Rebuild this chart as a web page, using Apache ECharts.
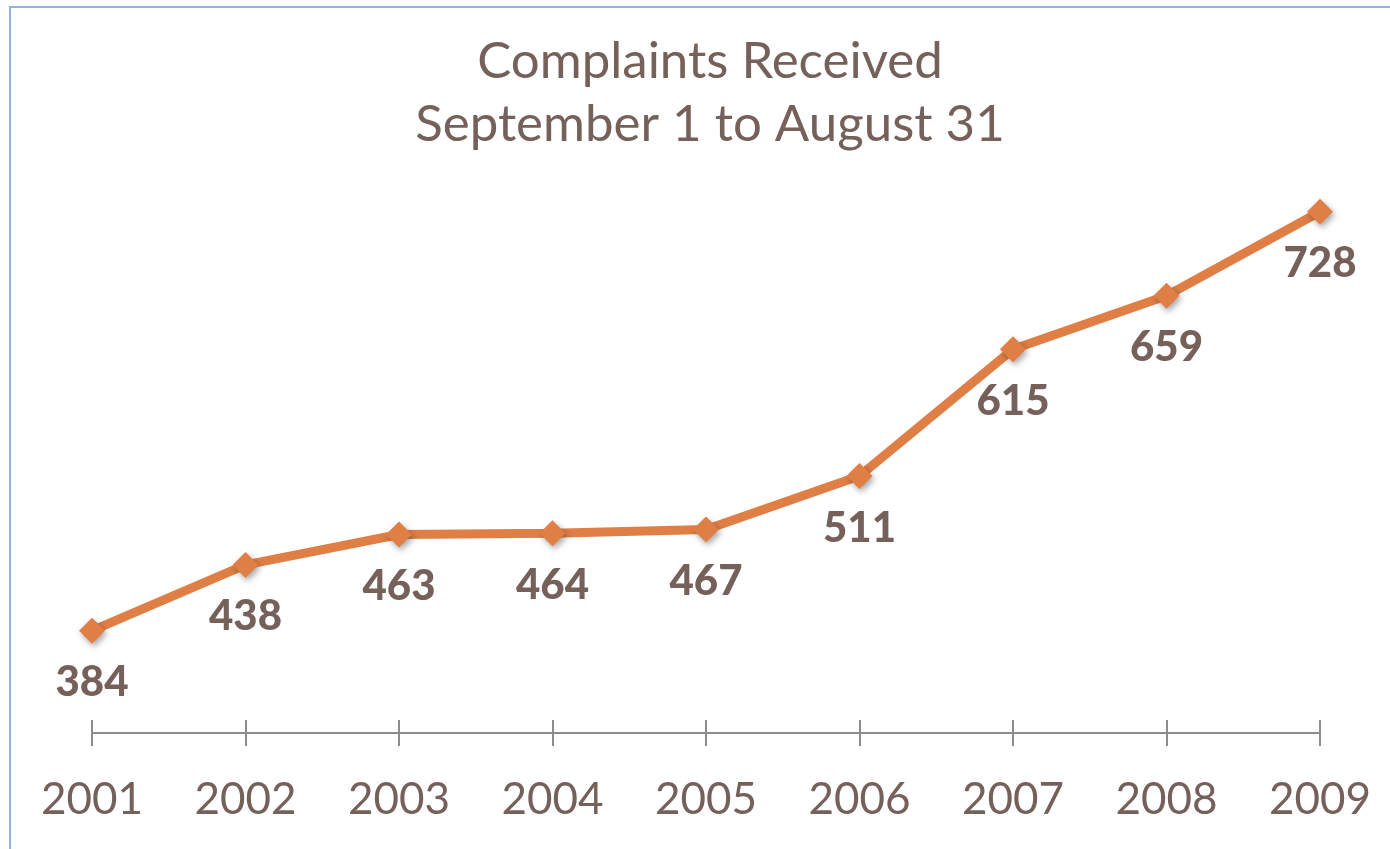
<!DOCTYPE html>
<html><head><meta charset="utf-8">
<script src="https://cdn.jsdelivr.net/npm/echarts@6/dist/echarts.min.js"></script>
<style>html,body{margin:0;padding:0;background:#fff;}#c{width:1390px;height:849px;}
#frame{position:absolute;left:9px;top:6px;width:1400px;height:900px;border-left:2px solid #95b3d7;border-top:2px solid #95b3d7;pointer-events:none;}</style>
</head><body><div id="c"></div><div id="frame"></div>
<script>
const years = ['2001','2002','2003','2004','2005','2006','2007','2008','2009'];
const complaints = [384, 438, 463, 464, 467, 511, 615, 659, 728];
const titleLines = ['Complaints Received', 'September 1 to August 31'];

const brown = '#76605a';
const chart = echarts.init(document.getElementById('c'));
chart.setOption({
  backgroundColor: '#fff',
  title: {
    text: titleLines.join('\n'),
    left: 705, top: 25, textAlign: 'center',
    textStyle: {fontFamily: 'Lato', fontWeight: 'normal', fontSize: 51, color: brown, lineHeight: 63}
  },
  grid: {left: 92, right: 70, top: 124, bottom: 116},
  xAxis: [{
    type: 'category', data: years, boundaryGap: false,
    axisLine: {lineStyle: {color: '#8c8c8c', width: 2}},
    axisTick: {show: true, length: 13, lineStyle: {color: '#8c8c8c', width: 2}},
    axisLabel: {color: brown, fontFamily: 'Lato', fontSize: 44, margin: 45}
  }, {
    type: 'category', data: years, boundaryGap: false, position: 'bottom',
    axisLine: {show: false},
    axisTick: {show: true, inside: true, length: 13, lineStyle: {color: '#8c8c8c', width: 2}},
    axisLabel: {show: false}
  }],
  yAxis: {type: 'value', min: 300, max: 800, show: false, splitLine: {show: false}},
  series: [{
    type: 'line', data: complaints, xAxisIndex: 0,
    symbol: 'diamond', symbolSize: 26,
    lineStyle: {color: '#e07f45', width: 9},
    itemStyle: {color: '#e07f45', shadowColor: 'rgba(0,0,0,0.35)', shadowBlur: 6, shadowOffsetX: 2, shadowOffsetY: 3},
    label: {show: true, position: 'bottom', distance: 18, color: brown, fontFamily: 'Lato', fontWeight: 900, fontSize: 42},
    animation: false
  }],
  animation: false
});
</script></body></html>
